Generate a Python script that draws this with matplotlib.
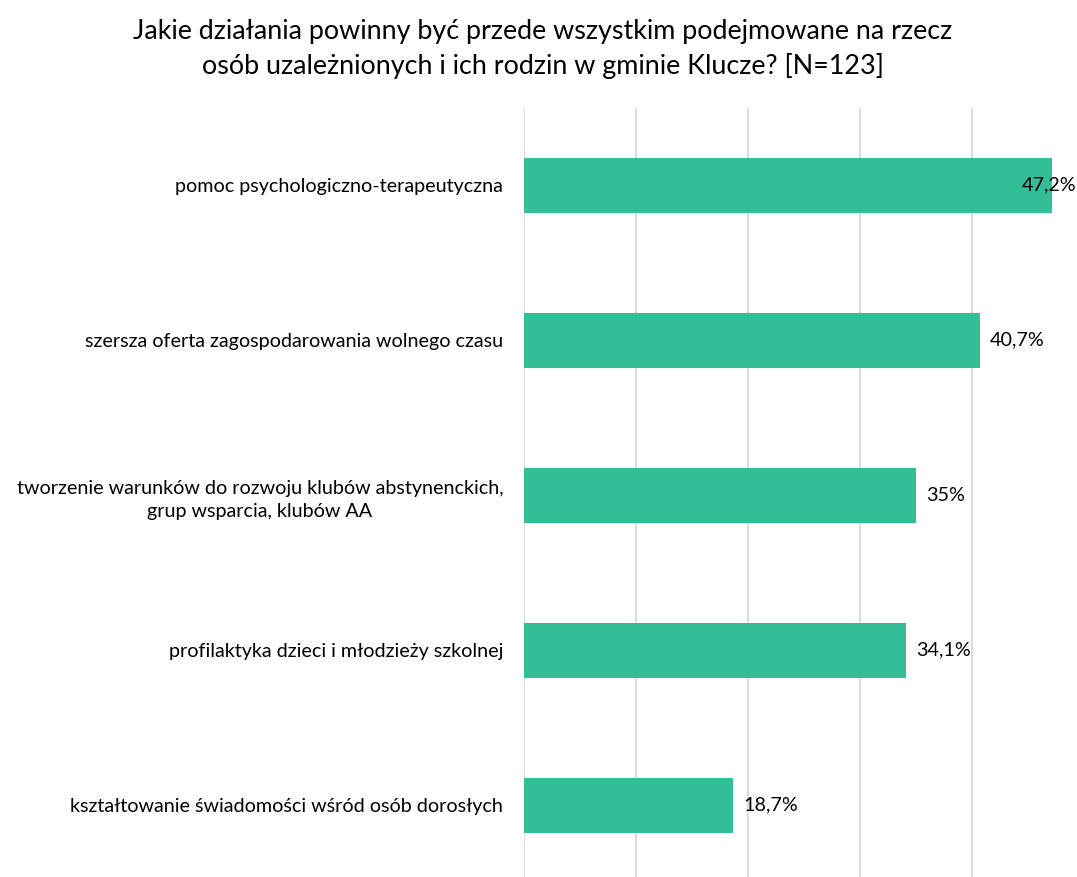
import matplotlib
matplotlib.use("Agg")
import matplotlib.pyplot as plt

plt.rcParams['font.family'] = ['Lato', 'DejaVu Sans']

title = ("Jakie działania powinny być przede wszystkim podejmowane na rzecz\n"
         "osób uzależnionych i ich rodzin w gminie Klucze? [N=123]")

categories = [
    "pomoc psychologiczno-terapeutyczna",
    "szersza oferta zagospodarowania wolnego czasu",
    "tworzenie warunków do rozwoju klubów abstynenckich,\ngrup wsparcia, klubów AA",
    "profilaktyka dzieci i młodzieży szkolnej",
    "kształtowanie świadomości wśród osób dorosłych",
]
values = [47.2, 40.7, 35.0, 34.1, 18.7]
value_labels = ["47,2%", "40,7%", "35%", "34,1%", "18,7%"]
grid_ticks = [0, 10, 20, 30, 40]

bar_color = "#33BE98"
xmax = 49.4

fig = plt.figure(figsize=(10.77, 8.77), dpi=100)
ax = fig.add_axes([0.4865, -0.0063, 1 - 0.4865, 0.8837])

ypos = list(range(len(categories)))
ax.barh(ypos, values, height=0.355, color=bar_color, zorder=3)
ax.set_ylim(len(categories) - 0.5, -0.5)
ax.set_xlim(0, xmax)

ax.set_yticks(ypos)
ax.set_yticklabels(categories, fontsize=14.2, multialignment='center', linespacing=1.45)
ax.tick_params(axis='y', length=0, pad=15)
ax.set_xticks(grid_ticks)
ax.tick_params(axis='x', length=0, labelbottom=False)
ax.grid(axis='x', color='#D9D9D9', lw=1.3, zorder=0)
for s in ax.spines.values():
    s.set_visible(False)

for y, v, lab in zip(ypos, values, value_labels):
    if v + 4.5 > xmax:
        ax.text(xmax - 0.05, y, lab, ha='right', va='center', fontsize=14.2, zorder=4)
    else:
        ax.text(v + 0.9, y, lab, ha='left', va='center', fontsize=14.2, zorder=4)

fig.text(0.504, 0.944, title, ha='center', va='center', fontsize=19.4, linespacing=1.45)

fig.savefig("out.png", dpi=100)
